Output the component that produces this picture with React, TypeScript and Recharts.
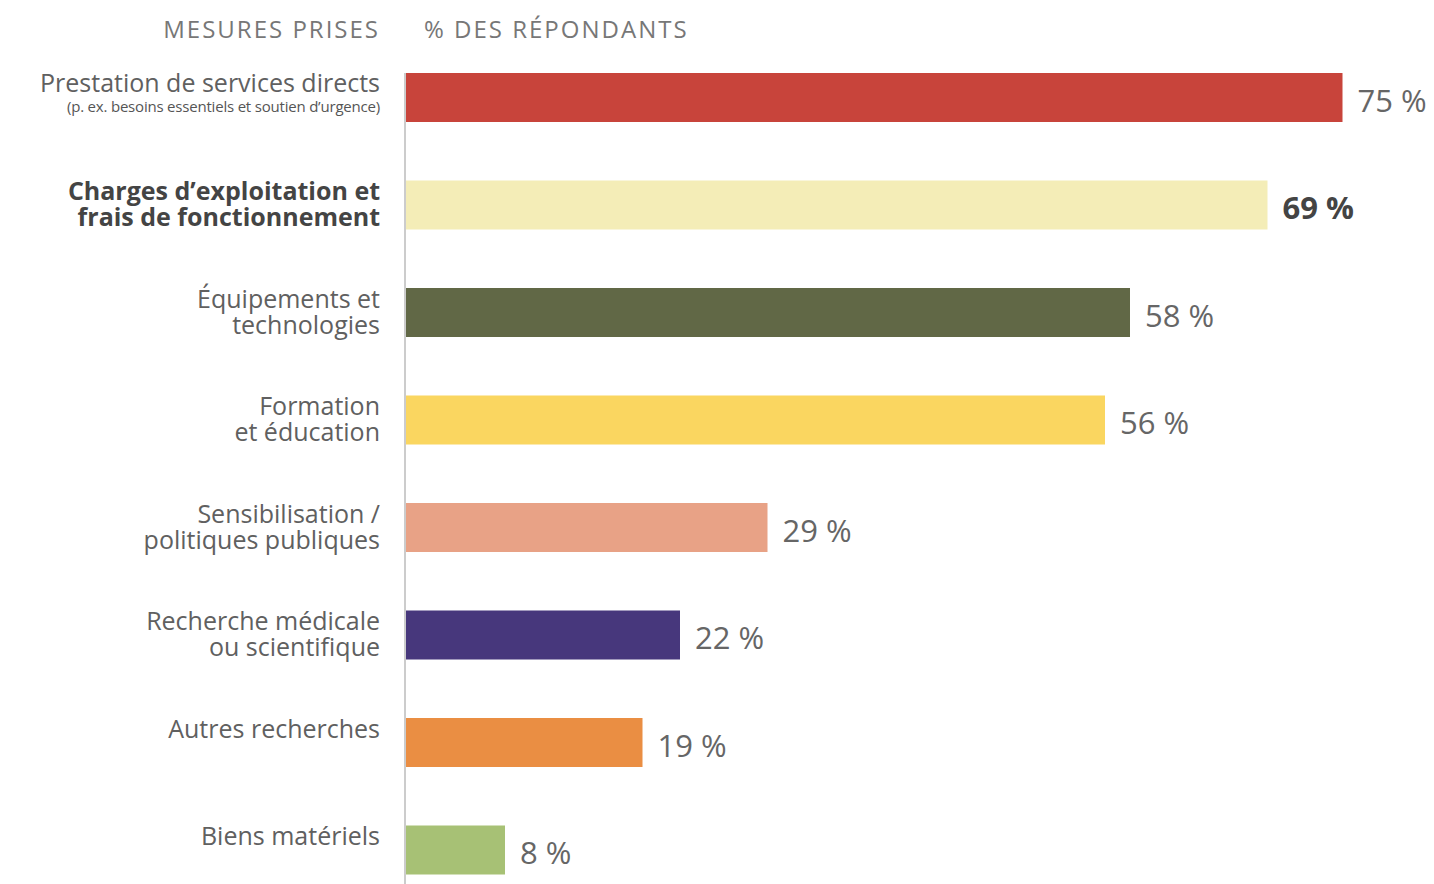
import { BarChart, Bar, XAxis, YAxis, Cell, LabelList } from 'recharts';

// categories (line 1 / line 2 of each label)
const labelTop = [
  'Prestation de services directs',
  'Charges d\u2019exploitation et',
  '\u00c9quipements et',
  'Formation',
  'Sensibilisation /',
  'Recherche m\u00e9dicale',
  'Autres recherches',
  'Biens mat\u00e9riels',
];
const labelBottom = [
  '',
  'frais de fonctionnement',
  'technologies',
  'et \u00e9ducation',
  'politiques publiques',
  'ou scientifique',
  '',
  '',
];
const firstNote = '(p. ex. besoins essentiels et soutien d\u2019urgence)';
const values = [75, 69, 58, 56, 29, 22, 19, 8];
const colors = ['#c8443b', '#f4edb7', '#616846', '#fad660', '#e8a286', '#47377c', '#ea8e43', '#a7c175'];
const highlighted = 1;
const headers = ['MESURES PRISES', '% DES R\u00c9PONDANTS'];

const data = values.map((v, i) => ({ name: labelTop[i], value: v }));

const FONT = '"Open Sans", Lato, sans-serif';

const CategoryTick = ({ x, y, payload }: any) => {
  const i = payload.index;
  const bold = i === highlighted;
  const fill = bold ? '#444' : '#606060';
  const weight = bold ? 700 : 500;
  if (i === 0) {
    return (
      <g>
        <text x={x} y={y - 6} textAnchor="end" fill={fill} fontSize={25} fontWeight={weight} fontFamily={FONT}>
          {labelTop[i]}
        </text>
        <text x={x} y={y + 14} textAnchor="end" fill="#555" fontSize={15} fontFamily={FONT} letterSpacing={-0.2}>
          {firstNote}
        </text>
      </g>
    );
  }
  return (
    <g>
      <text x={x} y={y - 5} textAnchor="end" fill={fill} fontSize={25} fontWeight={weight} fontFamily={FONT}>
        {labelTop[i]}
      </text>
      {labelBottom[i] && (
        <text x={x} y={y + 21} textAnchor="end" fill={fill} fontSize={25} fontWeight={weight} fontFamily={FONT}>
          {labelBottom[i]}
        </text>
      )}
    </g>
  );
};

const ValueLabel = (props: any) => {
  const { x, y, width, height, value, index } = props;
  const bold = index === highlighted;
  return (
    <text
      x={x + width + 15}
      y={y + height / 2 + 2}
      dominantBaseline="central"
      fill={bold ? '#444' : '#666'}
      fontSize={31}
      fontWeight={bold ? 700 : 500}
      fontFamily={FONT}
    >
      {value} %
    </text>
  );
};

export default function App() {
  return (
    <div style={{ position: 'absolute', left: 0, top: 0, width: 1434, height: 884, overflow: 'hidden', background: '#fff' }}>
      <div style={{ position: 'absolute', left: 0, top: 12, width: 380, textAlign: 'right', fontFamily: FONT, fontSize: 24, color: '#777', letterSpacing: 2 }}>
        {headers[0]}
      </div>
      <div style={{ position: 'absolute', left: 424, top: 12, fontFamily: FONT, fontSize: 24, color: '#777', letterSpacing: 2 }}>
        {headers[1]}
      </div>
      <BarChart
        width={1434}
        height={904}
        data={data}
        layout="vertical"
        margin={{ top: 73, right: 29, bottom: 0, left: 0 }}
      >
        <XAxis type="number" domain={[0, 80]} hide />
        <YAxis
          type="category"
          dataKey="name"
          width={405}
          interval={0}
          axisLine={{ stroke: '#cccccc', strokeWidth: 2 }}
          tickLine={false}
          tickSize={0}
          tickMargin={25}
          padding={{ top: -29, bottom: 0 }}
          tick={<CategoryTick />}
        />
        <Bar dataKey="value" barSize={49} isAnimationActive={false}>
          {values.map((v, i) => (
            <Cell key={i} fill={colors[i]} />
          ))}
          <LabelList dataKey="value" content={<ValueLabel />} />
        </Bar>
      </BarChart>
    </div>
  );
}
